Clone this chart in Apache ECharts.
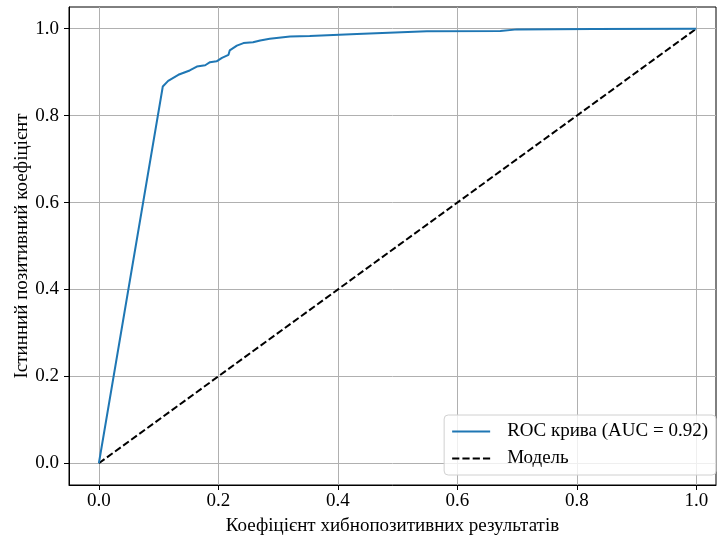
<!DOCTYPE html>
<html><head><meta charset="utf-8">
<script src="https://cdn.jsdelivr.net/npm/echarts@6/dist/echarts.min.js"></script>
<style>html,body{margin:0;padding:0;background:#fff}#c{width:718px;height:538px}</style>
</head><body><div id="c"></div>
<script>
const rocFpr = [0, 0.107, 0.116, 0.133, 0.152, 0.164, 0.178, 0.186, 0.197, 0.206, 0.217, 0.219, 0.231, 0.242, 0.258, 0.270, 0.286, 0.320, 0.353, 0.432, 0.549, 0.672, 0.700, 0.827, 1.0];
const rocTpr = [0, 0.867, 0.880, 0.894, 0.904, 0.913, 0.916, 0.923, 0.925, 0.933, 0.940, 0.950, 0.961, 0.967, 0.969, 0.973, 0.977, 0.982, 0.983, 0.988, 0.994, 0.995, 0.9985, 0.9995, 1.0];
const modelX = [0, 1];
const modelY = [0, 1];
const tickValues = [0, 0.2, 0.4, 0.6, 0.8, 1.0];
const rocName = 'ROC крива (AUC = 0.92)';
const modelName = 'Модель';
const xTitle = 'Коефіцієнт хибнопозитивних результатів';
const yTitle = 'Істинний позитивний коефіцієнт';

const font = 'Liberation Serif, Times New Roman, serif';
const FS = 19;
const chart = echarts.init(document.getElementById('c'));
const axisCommon = {
  type: 'value',
  axisLine: {show: true, onZero: false, lineStyle: {color: '#000', width: 1}},
  axisTick: {show: true, inside: false, length: 5, lineStyle: {color: '#000'}, customValues: tickValues},
  axisLabel: {color: '#000', fontFamily: font, fontSize: FS, customValues: tickValues, formatter: v => v.toFixed(1)},
  splitLine: {show: true, lineStyle: {color: '#b0b0b0', width: 1}},
  nameLocation: 'middle',
  nameMoveOverlap: false,
  nameTextStyle: {color: '#000', fontFamily: font, fontSize: FS}
};
chart.setOption({
  animation: false,
  grid: {left: 69, right: 2, top: 7, bottom: 53, show: true, borderColor: '#000', borderWidth: 1,
    containLabel: false, outerBoundsMode: 'none'},
  xAxis: Object.assign({}, axisCommon, {min: -0.05, max: 1.033, name: xTitle, nameGap: 32,
    axisLabel: Object.assign({}, axisCommon.axisLabel, {margin: 7})}),
  yAxis: Object.assign({}, axisCommon, {min: -0.05, max: 1.05, name: yTitle, nameGap: 37,
    axisLabel: Object.assign({}, axisCommon.axisLabel, {margin: 10})}),
  legend: {
    orient: 'vertical', right: 2, bottom: 63,
    itemWidth: 38, itemHeight: 14, itemGap: 8,
    padding: [7, 8, 7, 8],
    backgroundColor: 'rgba(255,255,255,0.8)', borderColor: '#d0d0d0', borderWidth: 1, borderRadius: 4,
    textStyle: {color: '#000', fontFamily: font, fontSize: FS, padding: [0, 0, 0, 12]},
    data: [
      {name: rocName, icon: 'path://M0,6 L38,6 L38,8 L0,8 Z'},
      {name: modelName, icon: 'path://M0,6 L7,6 L7,8 L0,8 Z M10,6 L17,6 L17,8 L10,8 Z M20,6 L27,6 L27,8 L20,8 Z M30,6 L37,6 L37,8 L30,8 Z'}
    ]
  },
  series: [
    {name: rocName, type: 'line', showSymbol: false, symbol: 'none', data: rocFpr.map((x, i) => [x, rocTpr[i]]), lineStyle: {color: '#1f77b4', width: 2}, itemStyle: {color: '#1f77b4'}, z: 3},
    {name: modelName, type: 'line', showSymbol: false, symbol: 'none', data: modelX.map((x, i) => [x, modelY[i]]), lineStyle: {color: '#000', width: 2, type: [7, 3]}, itemStyle: {color: '#000'}, z: 2}
  ]
});
</script></body></html>
